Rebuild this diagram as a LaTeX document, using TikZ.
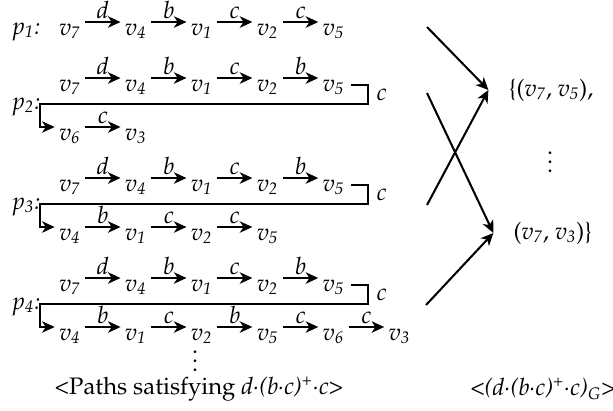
\documentclass[tikz,border=0pt]{standalone}
\usepackage[T1]{fontenc}
\usepackage{palatino}
\usetikzlibrary{positioning,arrows.meta}

\newcommand{\vx}[1]{\textit{v\textsubscript{#1}}}
\newcommand{\pth}[1]{\textit{p\textsubscript{#1}:}}
\newcommand{\cd}{\textperiodcentered}

\begin{document}
\fontsize{10.5}{12.5}\selectfont
\begin{tikzpicture}[
    x=0.44pt, y=-0.44pt,
    line width=0.9pt,
    on grid,
    node distance=29pt,
    % vertex of a path, centre raised so that the arrows sit high
    vert/.style={
        text height=11.5pt,
        text depth=0pt,
        inner xsep=1.6pt,
        inner ysep=0pt,
        },
    hop/.style={-{Stealth[length=5.5pt,width=5pt,inset=1.6pt]}},
    lab/.style={above, inner sep=1pt, font=\itshape},
    ]
    \useasboundingbox (0,0) rectangle (613,410);

    % path labels
    \node [anchor=base west] (p1) at (4,34) {\pth{1}};
    \node [anchor=base west] (p2) at (4,109) {\pth{2}};
    \node [anchor=base west] (p3) at (4,209) {\pth{3}};
    \node [anchor=base west] (p4) at (4,309) {\pth{4}};

    % p1
    \node [vert] (a1) at (70,22) {\vx{7}};
    \node [vert, right=of a1] (a2) {\vx{4}};
    \node [vert, right=of a2] (a3) {\vx{1}};
    \node [vert, right=of a3] (a4) {\vx{2}};
    \node [vert, right=of a4] (a5) {\vx{5}};
    \draw [hop] (a1) -- node [lab] {d} (a2);
    \draw [hop] (a2) -- node [lab] {b} (a3);
    \draw [hop] (a3) -- node [lab] {c} (a4);
    \draw [hop] (a4) -- node [lab] {c} (a5);

    % first line of p2, p3, p4 is the same
    \foreach \row/\y in {b/78, d/178, f/278} {
        \node [vert] (\row1) at (70,\y) {\vx{7}};
        \node [vert, right=of \row1] (\row2) {\vx{4}};
        \node [vert, right=of \row2] (\row3) {\vx{1}};
        \node [vert, right=of \row3] (\row4) {\vx{2}};
        \node [vert, right=of \row4] (\row5) {\vx{5}};
        \draw [hop] (\row1) -- node [lab] {d} (\row2);
        \draw [hop] (\row2) -- node [lab] {b} (\row3);
        \draw [hop] (\row3) -- node [lab] {c} (\row4);
        \draw [hop] (\row4) -- node [lab] {b} (\row5);
        \coordinate (\row k) at (368,\y+26);
        \coordinate (\row l) at (40,\y+26);
    }

    % second lines
    \node [vert] (c1) at (70,127) {\vx{6}};
    \node [vert, right=of c1] (c2) {\vx{3}};
    \draw [hop] (c1) -- node [lab] {c} (c2);

    \node [vert] (e1) at (70,227) {\vx{4}};
    \node [vert, right=of e1] (e2) {\vx{1}};
    \node [vert, right=of e2] (e3) {\vx{2}};
    \node [vert, right=of e3] (e4) {\vx{5}};
    \draw [hop] (e1) -- node [lab] {b} (e2);
    \draw [hop] (e2) -- node [lab] {c} (e3);
    \draw [hop] (e3) -- node [lab] {c} (e4);

    \node [vert] (g1) at (70,327) {\vx{4}};
    \node [vert, right=of g1] (g2) {\vx{1}};
    \node [vert, right=of g2] (g3) {\vx{2}};
    \node [vert, right=of g3] (g4) {\vx{5}};
    \node [vert, right=of g4] (g5) {\vx{6}};
    \node [vert, right=of g5] (g6) {\vx{3}};
    \draw [hop] (g1) -- node [lab] {b} (g2);
    \draw [hop] (g2) -- node [lab] {c} (g3);
    \draw [hop] (g3) -- node [lab] {b} (g4);
    \draw [hop] (g4) -- node [lab] {c} (g5);
    \draw [hop] (g5) -- node [lab] {c} (g6);

    % bends between the lines
    \draw [hop] ([xshift=1pt,yshift=-3pt]b5.east) -| node [right, pos=0.75, font=\itshape] {c} (bk) -- (bl) |- (c1);
    \draw [hop] ([xshift=1pt,yshift=-3pt]d5.east) -| node [right, pos=0.75, font=\itshape] {c} (dk) -- (dl) |- (e1);
    \draw [hop] ([xshift=1pt,yshift=-3pt]f5.east) -| node [right, pos=0.75, font=\itshape] {c} (fk) -- (fl) |- (g1);

    \node (more) at (195,354) {\vdots};
    \node (capl) at (199,389) {\textless Paths satisfying \textit{d\cd(b\cd c)\textsuperscript{+}\cd c}\textgreater};

    % pairs
    \node (top) at (551,90) {\{(\vx{7}, \vx{5}),};
    \node (mid) at (550,155) {\vdots};
    \node (bot) at (553,233) {(\vx{7}, \vx{3})\}};
    \node (capr) at (543,389) {\textless\textit{(d\cd(b\cd c)\textsuperscript{+}\cd c)\textsubscript{G}}\textgreater};

    \coordinate (s1) at (427,27);
    \coordinate (s2) at (427,93);
    \coordinate (s3) at (427,205);
    \coordinate (s4) at (426,305);
    \draw [hop] (s1) -- ([xshift=-5pt]top.west);
    \draw [hop] (s3) -- ([xshift=-5pt]top.west);
    \draw [hop] (s2) -- ([xshift=-5pt]bot.west);
    \draw [hop] (s4) -- ([xshift=-5pt]bot.west);

\end{tikzpicture}
\end{document}
